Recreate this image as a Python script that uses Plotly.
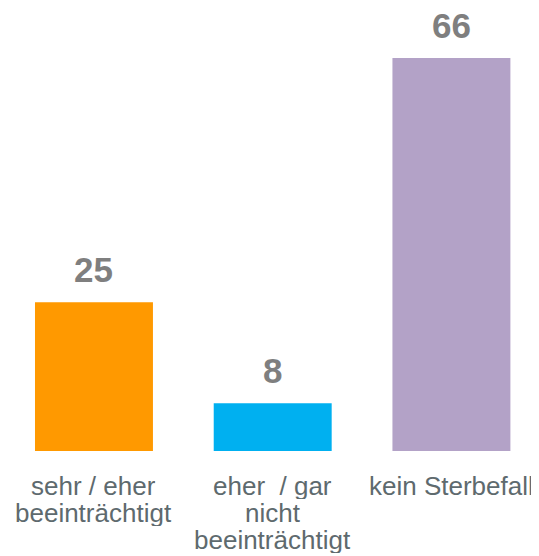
import plotly.graph_objects as go

categories = ["sehr / eher<br>beeinträchtigt", "eher  / gar<br>nicht<br>beeinträchtigt", "kein Sterbefall"]
values = [25, 8, 66]
colors = ["#FF9900", "#00B0F0", "#B3A2C7"]

FONT = "Liberation Sans, Arial"

fig = go.Figure(go.Bar(x=categories, y=values, marker=dict(color=colors, line=dict(width=0)),
                       hoverinfo="skip"))

# value labels above bars
for c, v in zip(categories, values):
    fig.add_annotation(x=c, y=v, text=f"<b>{v}</b>", showarrow=False, yanchor="bottom", yshift=16,
                       height=30, valign="middle",
                       font=dict(family=FONT, size=35, color="#7F7F7F"))

# category labels (tight line spacing)
for c in categories:
    for i, line in enumerate(c.split("<br>")):
        fig.add_annotation(x=c, y=0, xref="x", yref="paper", text=line.replace("  ", "&nbsp; "),
                           showarrow=False, yanchor="top", yshift=-20 - 27 * i,
                           height=26, valign="middle",
                           font=dict(family=FONT, size=26, color="#5E6A6E"))

fig.update_layout(
    width=539, height=556,
    margin=dict(l=0, r=8, t=0, b=113),
    paper_bgcolor="white", plot_bgcolor="white",
    bargap=0.34, showlegend=False,
    font=dict(family=FONT, size=26, color="#5E6A6E"),
)
fig.update_xaxes(showline=False, showgrid=False, zeroline=False, ticks="", showticklabels=False,
                 range=[-0.481, 2.49])
fig.update_yaxes(range=[0, 74.4], visible=False)

fig.write_html("out.html")
